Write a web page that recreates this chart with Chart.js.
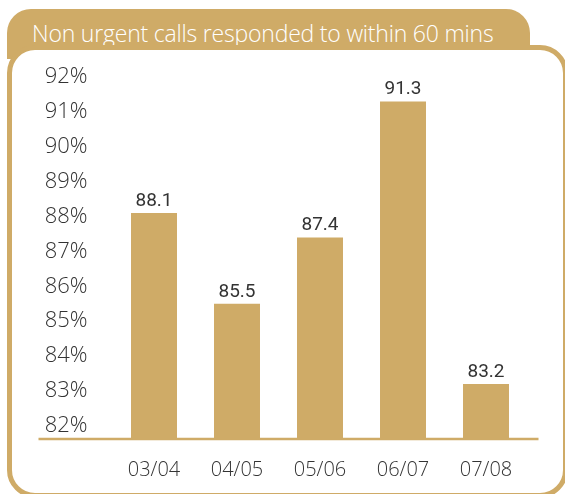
<!DOCTYPE html>
<html>
<head>
<meta charset="utf-8">
<script src="https://cdn.jsdelivr.net/npm/chart.js@4"></script>
<style>
  html, body { margin: 0; padding: 0; background: #fff; }
  body { width: 565px; height: 494px; position: relative; overflow: hidden; }
  .tab {
    position: absolute; left: 7px; top: 9px; width: 523px; height: 50px;
    background: #cfab67; border-radius: 24px 24px 0 0;
  }
  .tab span {
    position: absolute; left: 25px; top: 8px;
    font-family: "Open Sans", sans-serif; font-weight: 300; font-size: 23px;
    color: #fff; white-space: nowrap; letter-spacing: -0.2px;
  }
  .frame {
    position: absolute; left: 7px; top: 45px; width: 551px; height: 443px;
    border: 5px solid #cfab67; border-radius: 28px; background: #fff;
  }
  #wrap { position: absolute; left: 0; top: 0; width: 565px; height: 494px; }
</style>
</head>
<body>
<div class="tab"><span>Non urgent calls responded to within 60 mins</span></div>
<div class="frame"></div>
<div id="wrap"><canvas id="c"></canvas></div>

<script>
// ── DATA ─────────────────────────────────────────────────────
const years = ['03/04', '04/05', '05/06', '06/07', '07/08'];
const pctCalls = [88.1, 85.5, 87.4, 91.3, 83.2];
const yTicks = [82, 83, 84, 85, 86, 87, 88, 89, 90, 91, 92];

const GOLD = '#cfab67';
const INK = '#333333';

// value labels above each bar
const barLabels = {
  id: 'barLabels',
  afterDatasetsDraw(chart) {
    const ctx = chart.ctx;
    const meta = chart.getDatasetMeta(0);
    ctx.save();
    ctx.font = '19px Roboto';
    ctx.fillStyle = INK;
    ctx.textAlign = 'center';
    ctx.textBaseline = 'alphabetic';
    meta.data.forEach((bar, i) => {
      ctx.fillText(pctCalls[i].toFixed(1), bar.x, bar.y - 7);
    });
    ctx.restore();
  }
};

// long base line running under the y labels too
const baseLine = {
  id: 'baseLine',
  afterDatasetsDraw(chart) {
    const { ctx, chartArea } = chart;
    ctx.save();
    ctx.strokeStyle = GOLD;
    ctx.lineWidth = 2.5;
    ctx.beginPath();
    ctx.moveTo(chartArea.left - 74, chartArea.bottom + 1);
    ctx.lineTo(chartArea.right + 11, chartArea.bottom + 1);
    ctx.stroke();
    ctx.restore();
  }
};

new Chart(document.getElementById('c'), {
  type: 'bar',
  data: {
    labels: years,
    datasets: [{
      data: pctCalls,
      backgroundColor: GOLD,
      borderWidth: 0,
      categoryPercentage: 1,
      barPercentage: 0.554
    }]
  },
  options: {
    responsive: true,
    maintainAspectRatio: false,
    animation: false,
    layout: { padding: { top: 60, right: 37.5, left: 0, bottom: 0 } },
    plugins: { legend: { display: false }, tooltip: { enabled: false } },
    scales: {
      x: {
        grid: { display: false, drawTicks: false },
        border: { display: false },
        ticks: { color: INK, font: { family: 'Open Sans', size: 20, weight: 300 }, padding: 20 },
        afterFit: s => { s.height = 56; }
      },
      y: {
        min: 81.648,
        max: 92.49,
        grid: { display: false, drawTicks: false },
        border: { display: false },
        afterBuildTicks: s => { s.ticks = yTicks.map(v => ({ value: v })); },
        ticks: {
          color: INK,
          font: { family: 'Open Sans', size: 22, weight: 300 },
          padding: 25,
          callback: v => v + '%'
        },
        afterFit: s => { s.width = 112.5; }
      }
    }
  },
  plugins: [barLabels, baseLine]
});
</script>
</body>
</html>
